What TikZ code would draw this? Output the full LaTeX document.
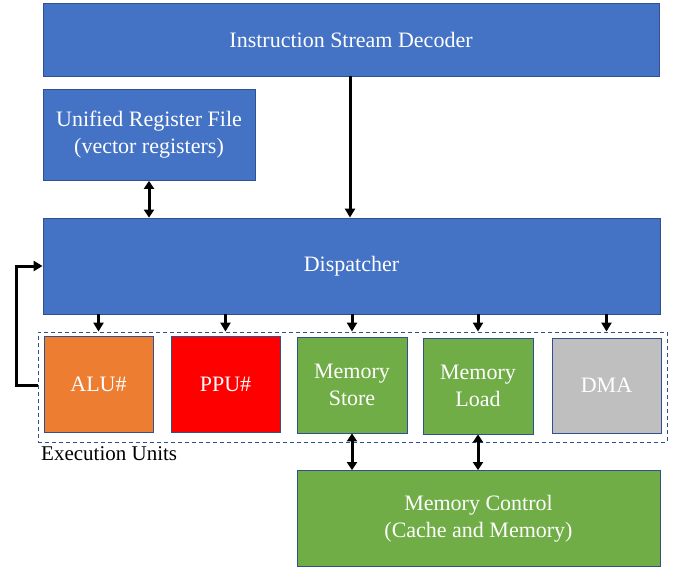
\documentclass[tikz,border=0pt]{standalone}
\usepackage{fontspec}
\setmainfont{Liberation Serif}
\usetikzlibrary{arrows.meta}
\definecolor{cblue}{HTML}{4472C4}
\definecolor{corange}{HTML}{ED7D31}
\definecolor{cred}{HTML}{FF0000}
\definecolor{cgreen}{HTML}{70AD47}
\definecolor{cgray}{HTML}{BFBFBF}
\definecolor{cborder}{HTML}{2F528F}
\tikzset{
  blk/.style={draw=cborder, line width=0.8pt, inner sep=0pt, text=white, align=center,
    font=\fontsize{22}{27}\selectfont},
  arr/.style={line width=3pt, -{Triangle[length=9pt,width=10pt]}},
  darr/.style={line width=3pt, {Triangle[length=8pt,width=10pt]}-{Triangle[length=8pt,width=10pt]}},
  grp/.style={draw=cborder, dashed, line width=0.9pt, dash pattern=on 4pt off 3pt},
}
\begin{document}
\begin{tikzpicture}[x=1pt,y=-1pt]
\useasboundingbox (0,0) rectangle (686,566);
\node[blk, fill=cblue, minimum width=616pt, minimum height=73pt] (dec) at (351,39.5) {Instruction Stream Decoder};
\node[blk, fill=cblue, minimum width=212pt, minimum height=91pt] (urf) at (149,135) {Unified Register File\\(vector registers)};
\node[blk, fill=cblue, minimum width=617pt, minimum height=96pt] (disp) at (351.5,266) {Dispatcher};
\node[grp, minimum width=629pt, minimum height=110pt, inner sep=0pt] (eu) at (352.5,387) {};
\node[blk, fill=corange, minimum width=109pt, minimum height=96pt] (alu) at (98.5,384) {ALU\#};
\node[blk, fill=cred, minimum width=109pt, minimum height=96pt] (ppu) at (225.5,384) {PPU\#};
\node[blk, fill=cgreen, minimum width=110pt, minimum height=96pt] (mst) at (352,385) {Memory\\Store};
\node[blk, fill=cgreen, minimum width=110pt, minimum height=96pt] (mld) at (478,386) {Memory\\Load};
\node[blk, fill=cgray, minimum width=109pt, minimum height=95pt] (dma) at (606.5,385.5) {DMA};
\node[blk, fill=cgreen, minimum width=363pt, minimum height=96pt] (mc) at (478.5,518.5) {Memory Control\\(Cache and Memory)};
\node[anchor=base west, inner sep=0pt, font=\fontsize{21}{24}\selectfont] (eul) at (41,460) {Execution Units};
\draw[arr] (dec.south -| 350,0) -- (disp.north -| 350,0);
\draw[darr] (urf.south) -- (urf.south |- disp.north);
\foreach \u in {alu,ppu,mst,mld,dma}
  \draw[arr] (\u.north |- disp.south) -- (\u.north |- eu.north);
\draw[arr] (eu.west |- 0,385) -- (16,385) |- (disp.west);
\draw[darr] (mst.south) -- (mst.south |- mc.north);
\draw[darr] (mld.south) -- (mld.south |- mc.north);
\end{tikzpicture}
\end{document}
